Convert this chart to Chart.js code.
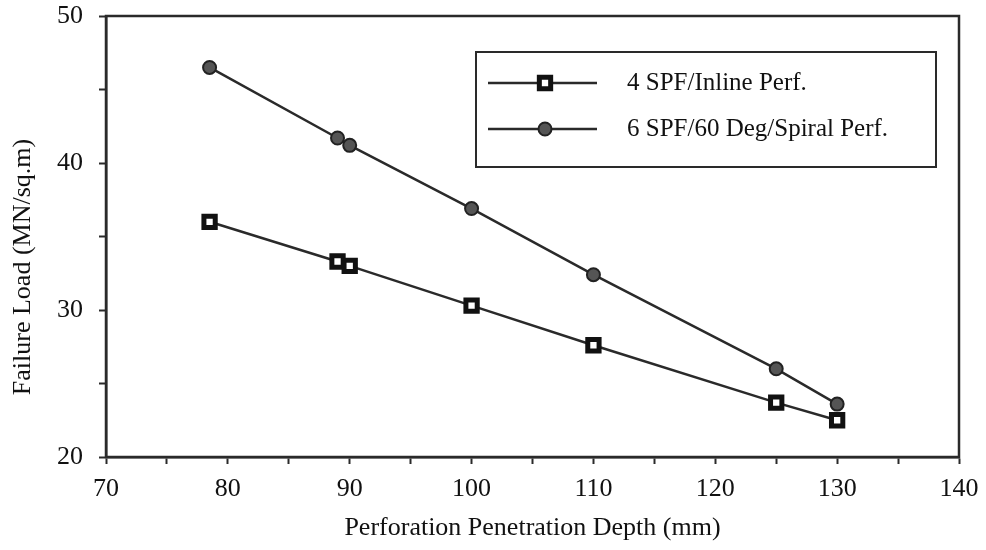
<!DOCTYPE html>
<html lang="en">
<head>
    <meta charset="UTF-8">
    <title>Failure Load vs Perforation Penetration Depth</title>
    <style>
        body {
            margin: 0;
            background: #fff;
        }
        .container {
            width: 986px;
            height: 550px;
            position: relative;
        }
    </style>
</head>
<body>
    <div class="container">
        <canvas id="chart"></canvas>
    </div>

    <script src="https://cdn.jsdelivr.net/npm/chart.js"></script>
    <script>
        // data
        const depths = [78.5, 89, 90, 100, 110, 125, 130];
        const inlineLoad = [36.0, 33.3, 33.0, 30.3, 27.6, 23.7, 22.5];
        const spiralLoad = [46.5, 41.7, 41.2, 36.9, 32.4, 26.0, 23.6];
        const seriesNames = ['4 SPF/Inline Perf.', '6 SPF/60 Deg/Spiral Perf.'];
        const xTicks = [70, 80, 90, 100, 110, 120, 130, 140];
        const yTicks = [20, 30, 40, 50];
        const yTitle = 'Failure Load (MN/sq.m)';

        const serif = "'Liberation Serif', 'DejaVu Serif', serif";
        const ink = '#2a2a2a';

        function pairs(xs, ys) {
            return xs.map((x, i) => ({ x: x, y: ys[i] }));
        }

        // frame round the plot, y title, legend box top right
        const framePlugin = {
            id: 'frame',
            afterDraw(chart) {
                const ctx = chart.ctx;
                const a = chart.chartArea;
                ctx.save();
                ctx.strokeStyle = ink;
                ctx.lineWidth = 2.5;
                ctx.strokeRect(a.left, a.top, a.right - a.left, a.bottom - a.top);

                // y axis title (sits a bit below the middle in the original)
                ctx.save();
                ctx.translate(23, 267);
                ctx.rotate(-Math.PI / 2);
                ctx.font = '26px ' + serif;
                ctx.fillStyle = '#111';
                ctx.textAlign = 'center';
                ctx.textBaseline = 'middle';
                ctx.fillText(yTitle, 0, 0);
                ctx.restore();

                // legend
                const bx = 476, by = 52, bw = 460, bh = 115;
                ctx.lineWidth = 2;
                ctx.strokeRect(bx, by, bw, bh);
                ctx.font = '25px ' + serif;
                ctx.textBaseline = 'middle';
                chart.data.datasets.forEach((ds, i) => {
                    const y = by + 31 + i * 46;
                    ctx.strokeStyle = ds.borderColor;
                    ctx.lineWidth = ds.borderWidth;
                    ctx.beginPath();
                    ctx.moveTo(bx + 12, y);
                    ctx.lineTo(bx + 121, y);
                    ctx.stroke();
                    ctx.fillStyle = ds.pointBackgroundColor;
                    ctx.strokeStyle = ds.pointBorderColor;
                    ctx.lineWidth = ds.pointBorderWidth;
                    Chart.helpers.drawPoint(ctx, {
                        pointStyle: ds.pointStyle,
                        radius: ds.pointRadius,
                        borderWidth: ds.pointBorderWidth
                    }, bx + 69, y);
                    ctx.fillStyle = '#111';
                    ctx.fillText(ds.label, bx + 151, y);
                });
                ctx.restore();
            }
        };

        const ctx = document.getElementById('chart').getContext('2d');
        new Chart(ctx, {
            type: 'line',
            data: {
                datasets: [{
                    label: seriesNames[0],
                    data: pairs(depths, inlineLoad),
                    borderColor: ink,
                    borderWidth: 2.5,
                    pointStyle: 'rect',
                    pointRadius: 8,
                    pointBackgroundColor: '#fff',
                    pointBorderColor: '#111',
                    pointBorderWidth: 5
                }, {
                    label: seriesNames[1],
                    data: pairs(depths, spiralLoad),
                    borderColor: ink,
                    borderWidth: 2.5,
                    pointStyle: 'circle',
                    pointRadius: 6.5,
                    pointBackgroundColor: '#555',
                    pointBorderColor: '#222',
                    pointBorderWidth: 2
                }]
            },
            options: {
                responsive: true,
                maintainAspectRatio: false,
                animation: false,
                layout: {
                    padding: { top: 16, right: 27, left: 0, bottom: 0 }
                },
                plugins: {
                    legend: { display: false },
                    tooltip: { enabled: false }
                },
                scales: {
                    x: {
                        type: 'linear',
                        min: 70,
                        max: 140,
                        afterFit(s) {
                            s.height = 93;
                            s.paddingLeft = 0;
                            s.paddingRight = 0;
                        },
                        afterBuildTicks(s) {
                            s.ticks = [];
                            for (let v = 70; v <= 140; v += 5) s.ticks.push({ value: v });
                        },
                        grid: {
                            drawOnChartArea: false,
                            tickLength: 7,
                            tickColor: ink,
                            tickWidth: 2
                        },
                        border: { color: ink, width: 2.5 },
                        ticks: {
                            color: '#111',
                            padding: 10,
                            maxRotation: 0,
                            font: { family: serif, size: 26 },
                            callback: v => xTicks.includes(v) ? v : ''
                        },
                        title: {
                            display: true,
                            text: 'Perforation Penetration Depth (mm)',
                            color: '#111',
                            font: { family: serif, size: 26 },
                            padding: { top: 0, bottom: 6 }
                        }
                    },
                    y: {
                        min: 20,
                        max: 50,
                        afterFit(s) {
                            s.width = 106;
                            s.paddingTop = 0;
                            s.paddingBottom = 0;
                        },
                        afterBuildTicks(s) {
                            s.ticks = [];
                            for (let v = 20; v <= 50; v += 5) s.ticks.push({ value: v });
                        },
                        grid: {
                            drawOnChartArea: false,
                            tickLength: 7,
                            tickColor: ink,
                            tickWidth: 2
                        },
                        border: { color: ink, width: 2.5 },
                        ticks: {
                            color: '#111',
                            padding: 16,
                            font: { family: serif, size: 26 },
                            callback: v => yTicks.includes(v) ? v : ''
                        }
                    }
                }
            },
            plugins: [framePlugin]
        });
    </script>
</body>
</html>
